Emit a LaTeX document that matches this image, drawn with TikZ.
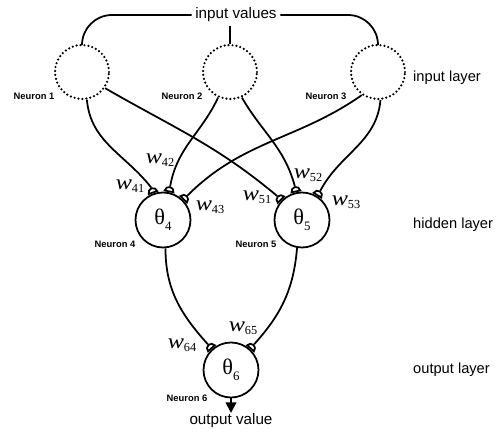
\documentclass[tikz,border=0pt]{standalone}
\usepackage{fontspec}
\setmainfont{Liberation Sans}
\newfontfamily\seriff{Liberation Serif}
\usetikzlibrary{shapes.geometric,arrows.meta}
\newcommand{\wlab}[1]{{\seriff\scalebox{1.15}[1]{\fontsize{18}{18}\selectfont\itshape w}\raisebox{-0.5ex}{\upshape\fontsize{10.5}{10.5}\selectfont #1}}}
\newcommand{\thlab}[1]{{\seriff\fontsize{19}{19}\selectfont θ\raisebox{-0.55ex}{\fontsize{11}{11}\selectfont #1}}}
\begin{document}
\begin{tikzpicture}[x=0.03cm,y=0.03cm,
  conn/.style={line width=1.5pt},
  inneuron/.style={circle,minimum size=54*0.03cm,inner sep=0pt,line width=2.1pt,dash pattern=on 0pt off 3.4pt,line cap=round,draw},
  neuron/.style={circle,minimum size=55*0.03cm,inner sep=0pt,line width=1.5pt,draw},
  capn/.style={semicircle,draw,line width=1.5pt,inner sep=0pt,minimum width=7.5pt,minimum height=3.8pt},
  nlab/.style={font=\fontsize{8}{8}\selectfont\bfseries},
  layerlab/.style={font=\fontsize{12.5}{12.5}\selectfont,anchor=west,inner sep=0pt},
  wl/.style={inner sep=0pt}]
\useasboundingbox (0,0) rectangle (497,-432);
% input layer
\node[inneuron] (n1) at (82,-72) {};
\node[inneuron] (n2) at (230,-72) {};
\node[inneuron] (n3) at (378,-72) {};
% hidden and output
\node[neuron] (n4) at (163,-220) {\thlab{4}};
\node[neuron] (n5) at (302,-220) {\thlab{5}};
\node[neuron] (n6) at (231,-370) {\thlab{6}};
% texts
\node[font=\fontsize{13}{13}\selectfont,inner sep=3pt] (iv) at (236,-15) {input values};
\node[font=\fontsize{13}{13}\selectfont] (ov) at (231,-421) {output value};
\coordinate (outtip) at (231,-413);
\node[layerlab] (l1) at (413,-78) {input layer};
\node[layerlab] (l2) at (413,-225) {hidden layer};
\node[layerlab] (l3) at (413,-370) {output layer};
\node[nlab] (m1) at (34,-96) {Neuron 1};
\node[nlab] (m2) at (182,-96) {Neuron 2};
\node[nlab] (m3) at (326,-96) {Neuron 3};
\node[nlab] (m4) at (115,-244) {Neuron 4};
\node[nlab] (m5) at (256,-244) {Neuron 5};
\node[nlab] (m6) at (187,-398) {Neuron 6};
% synapse caps
\foreach \nm/\nd/\ang in {c41/n4/110, c42/n4/78, c43/n4/45, c51/n5/136, c52/n5/102, c53/n5/58, c64/n6/132, c65/n6/48}{
  \node[capn,rotate=\ang-90,anchor=chord center] (\nm) at (\nd.\ang) {};
}
% weight labels
\node[wl] (w41) at (130,-186) {\wlab{41}};
\node[wl] (w42) at (160,-160) {\wlab{42}};
\node[wl] (w43) at (210,-207) {\wlab{43}};
\node[wl] (w51) at (257,-197) {\wlab{51}};
\node[wl] (w52) at (308,-175) {\wlab{52}};
\node[wl] (w53) at (346,-202) {\wlab{53}};
\node[wl] (w64) at (182,-345) {\wlab{64}};
\node[wl] (w65) at (243,-328) {\wlab{65}};
% input value lines
\draw[conn,rounded corners=30*0.03cm] (iv.west) -| (n1.north);
\draw[conn,rounded corners=30*0.03cm] (iv.east) -| (n3.north);
\draw[conn] (iv.south -| n2.north) -- (n2.north);
% connectors
\draw[conn] (n1.-80) to[out=-85,in=128] (c41.apex);
\draw[conn] (n1.-35) to[out=-30,in=140] (c51.apex);
\draw[conn] (n2.-115) to[out=-115,in=80] (c42.apex);
\draw[conn] (n2.-65) to[out=-60,in=105] (c52.apex);
\draw[conn] (n3.-125) to[out=-145,in=45] (c43.apex);
\draw[conn] (n3.-85) to[out=-95,in=62] (c53.apex);
\draw[conn] (n4.-85) to[out=-90,in=132] (c64.apex);
\draw[conn] (n5.-100) to[out=-95,in=48] (c65.apex);
\draw[conn,-{Triangle[width=9pt,length=9pt]}] (n6.south) -- (outtip);
\end{tikzpicture}
\end{document}
